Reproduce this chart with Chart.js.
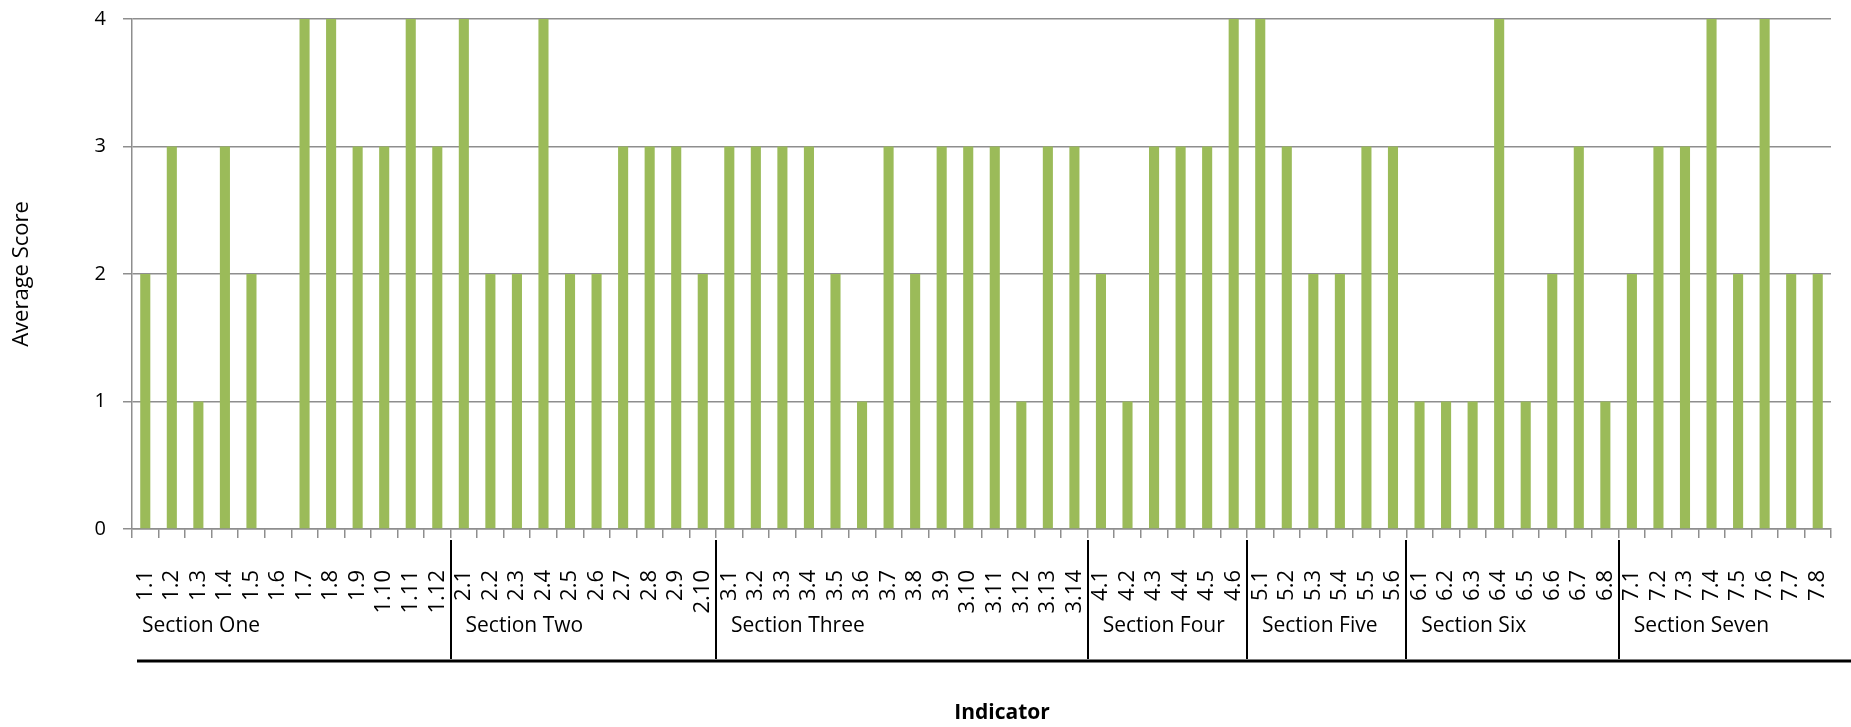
<!DOCTYPE html>
<html>
<head>
<meta charset="utf-8">
<script src="https://cdn.jsdelivr.net/npm/chart.js@4.4.1/dist/chart.umd.min.js"></script>
<style>
  html, body { margin: 0; padding: 0; background: #ffffff; }
  #wrap { width: 1851px; height: 727px; position: relative; }
</style>
</head>
<body>
<div id="wrap"><canvas id="c" width="1851" height="727"></canvas></div>
<script>
const categories = [
  "1.1","1.2","1.3","1.4","1.5","1.6","1.7","1.8","1.9","1.10","1.11","1.12",
  "2.1","2.2","2.3","2.4","2.5","2.6","2.7","2.8","2.9","2.10",
  "3.1","3.2","3.3","3.4","3.5","3.6","3.7","3.8","3.9","3.10","3.11","3.12","3.13","3.14",
  "4.1","4.2","4.3","4.4","4.5","4.6",
  "5.1","5.2","5.3","5.4","5.5","5.6",
  "6.1","6.2","6.3","6.4","6.5","6.6","6.7","6.8",
  "7.1","7.2","7.3","7.4","7.5","7.6","7.7","7.8"
];
const averageScores = [
  2,3,1,3,2,0,4,4,3,3,4,3,
  4,2,2,4,2,2,3,3,3,2,
  3,3,3,3,2,1,3,2,3,3,3,1,3,3,
  2,1,3,3,3,4,
  4,3,2,2,3,3,
  1,1,1,4,1,2,3,1,
  2,3,3,4,2,4,2,2
];
const sectionNames = ["Section One","Section Two","Section Three","Section Four","Section Five","Section Six","Section Seven"];
const sectionSizes = [12, 10, 14, 6, 6, 8, 8];
const yTickValues = [0, 1, 2, 3, 4];
const yAxisTitle = "Average Score";
const xAxisTitle = "Indicator";

const FONT = "'Open Sans', 'DejaVu Sans', sans-serif";

function zeroPadding(scale) {
  scale.paddingTop = 0;
  scale.paddingBottom = 0;
  scale.paddingLeft = 0;
  scale.paddingRight = 0;
}

const sectionPlugin = {
  id: 'sections',
  afterDraw(chart) {
    const ctx = chart.ctx;
    const xs = chart.scales.x;
    ctx.save();
    let start = 0;
    const starts = [];
    sectionSizes.forEach((n) => { starts.push(start); start += n; });
    ctx.strokeStyle = '#000000';
    ctx.lineWidth = 2;
    starts.forEach((s, i) => {
      if (i === 0) return;
      const x = Math.round(xs.getPixelForValue(s - 0.5));
      ctx.beginPath();
      ctx.moveTo(x, 540);
      ctx.lineTo(x, 659);
      ctx.stroke();
    });
    ctx.lineWidth = 3;
    ctx.beginPath();
    ctx.moveTo(137, 661);
    ctx.lineTo(1851, 661);
    ctx.stroke();
    ctx.fillStyle = '#000000';
    ctx.font = "21px " + FONT;
    ctx.textAlign = 'left';
    ctx.textBaseline = 'alphabetic';
    starts.forEach((s, i) => {
      const x = xs.getPixelForValue(s - 0.5) + (i === 0 ? 10 : 15);
      ctx.fillText(sectionNames[i], x, 632);
    });
    ctx.font = "bold 21px " + FONT;
    ctx.textAlign = 'center';
    ctx.fillText(xAxisTitle, 1002, 719);
    ctx.restore();
  }
};

new Chart(document.getElementById('c'), {
  type: 'bar',
  data: {
    labels: categories,
    datasets: [{
      label: yAxisTitle,
      data: averageScores,
      backgroundColor: '#9BBB59',
      borderWidth: 0,
      barPercentage: 0.475,
      categoryPercentage: 0.8
    }]
  },
  options: {
    responsive: false,
    animation: false,
    devicePixelRatio: 1,
    layout: { padding: { left: 0, right: 20, top: 19, bottom: 0 } },
    plugins: {
      legend: { display: false },
      tooltip: { enabled: false }
    },
    scales: {
      x: {
        offset: true,
        grid: {
          display: true,
          drawOnChartArea: false,
          drawTicks: true,
          tickLength: 9,
          color: '#8e8e8e',
          lineWidth: 1.5,
          offset: true
        },
        border: { display: true, color: '#8e8e8e', width: 1.5 },
        ticks: {
          autoSkip: false,
          minRotation: 90,
          maxRotation: 90,
          padding: 32,
          color: '#000000',
          font: { family: FONT, size: 22 }
        },
        afterFit(scale) { scale.height = 198; zeroPadding(scale); }
      },
      y: {
        min: 0,
        max: 4,
        afterBuildTicks(scale) { scale.ticks = yTickValues.map(v => ({ value: v })); },
        grid: {
          color: '#8e8e8e',
          lineWidth: 1.5,
          drawTicks: true,
          tickLength: 9
        },
        border: { display: true, color: '#8e8e8e', width: 1.5 },
        ticks: {
          padding: 17,
          color: '#000000',
          font: { family: FONT, size: 20 }
        },
        title: {
          display: true,
          text: yAxisTitle,
          color: '#000000',
          font: { family: FONT, size: 22 },
          padding: { top: 9, bottom: 0 }
        },
        afterFit(scale) { scale.width = 132; zeroPadding(scale); }
      }
    }
  },
  plugins: [sectionPlugin]
});
</script>
</body>
</html>
